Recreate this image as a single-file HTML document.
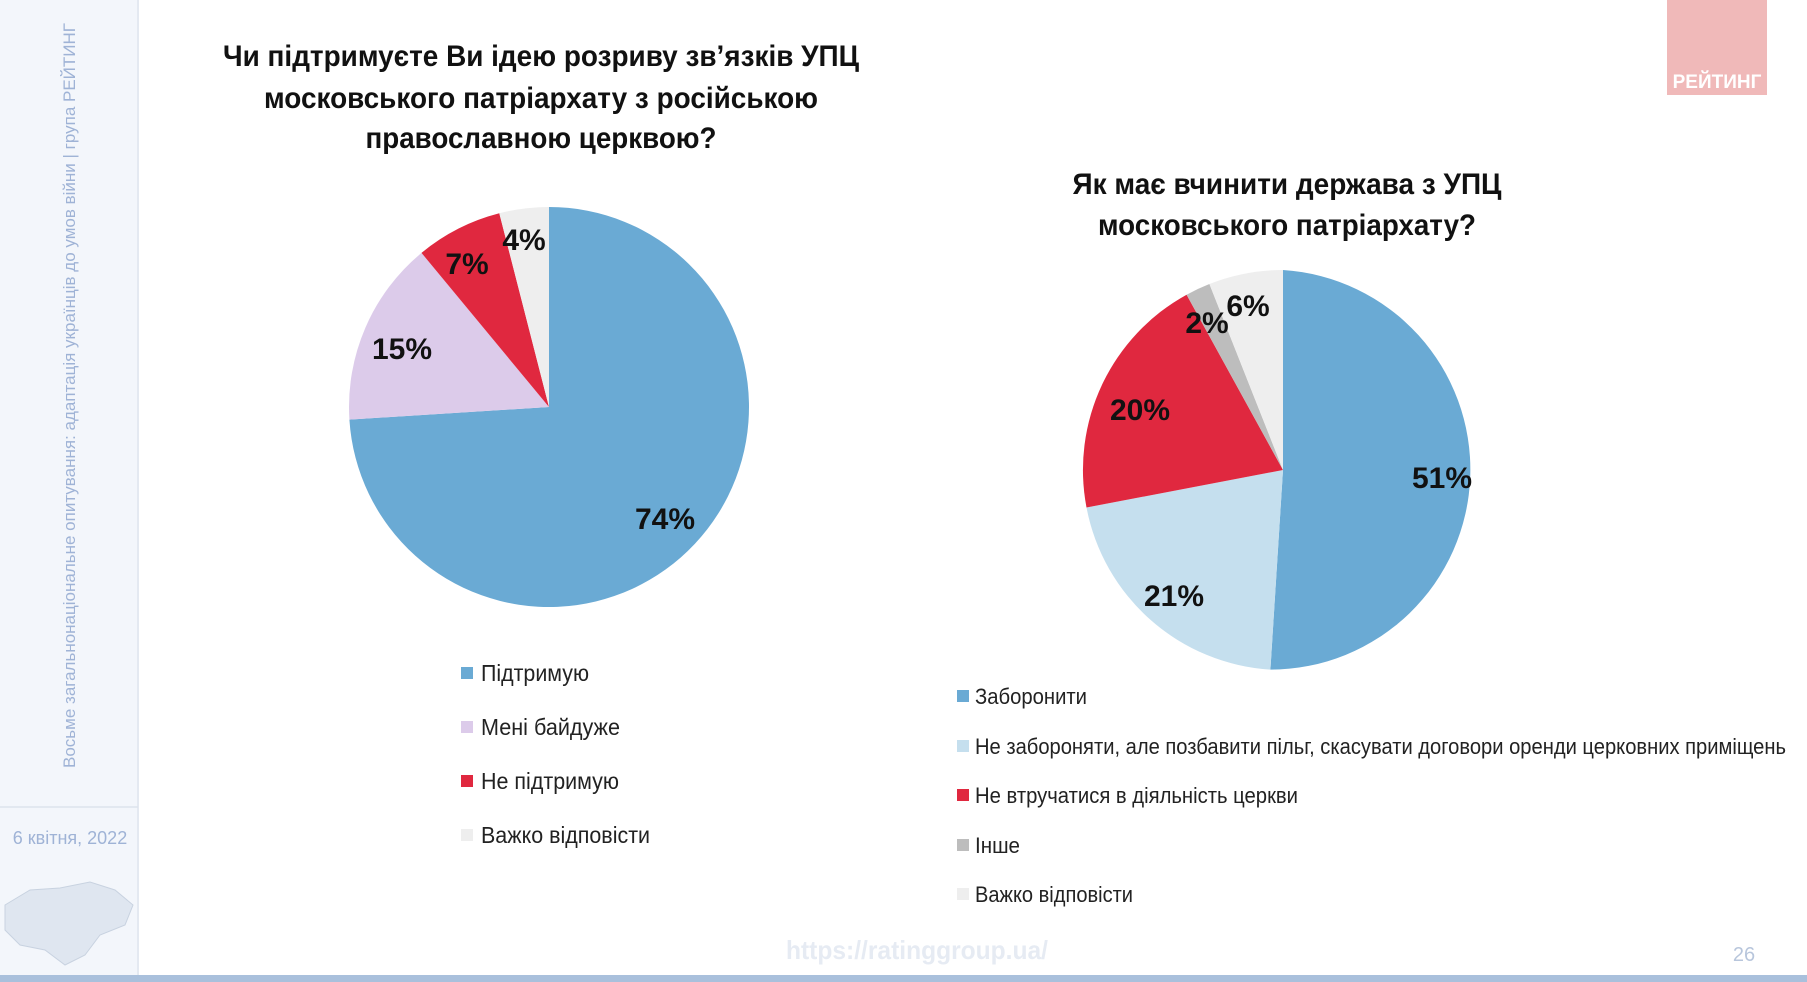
<!DOCTYPE html>
<html><head><meta charset="utf-8"><style>
html,body{margin:0;padding:0;background:#fff;}
svg{display:block;}
text{font-family:"Liberation Sans Narrow","Liberation Sans",sans-serif;}
</style></head><body>
<svg width="1807" height="982" viewBox="0 0 1807 982" xmlns="http://www.w3.org/2000/svg">
<rect x="0" y="0" width="138" height="982" fill="#f3f6fb"/>
<line x1="138" y1="0" x2="138" y2="975" stroke="#e4e9f1" stroke-width="2"/>
<line x1="0" y1="807" x2="138" y2="807" stroke="#dde3ec" stroke-width="1.5"/>
<text transform="translate(75,768) rotate(-90)" font-size="17" fill="#9fb3d6" textLength="745" lengthAdjust="spacingAndGlyphs">Восьме загальнонаціональне опитування: адаптація українців до умов війни | група РЕЙТИНГ</text>
<text x="70" y="844" font-size="18" fill="#9fb3d6" text-anchor="middle" font-family="Liberation Sans">6 квітня, 2022</text>
<path d="M5,905 L30,890 L60,888 L90,882 L115,890 L133,905 L125,925 L100,935 L85,955 L65,965 L45,950 L20,945 L5,930 Z" fill="#dfe6f0" stroke="#c8d2e0"/>
<rect x="0" y="975" width="1807" height="7" fill="#a9c0dc"/>
<rect x="1667" y="0" width="100" height="95" fill="#f0b9b9"/>
<text x="1717" y="88" font-size="19" font-weight="bold" fill="#fff" text-anchor="middle" font-family="Liberation Sans">РЕЙТИНГ</text>

<g font-weight="bold" font-size="30" fill="#111" text-anchor="middle">
<text x="541" y="66" textLength="636" lengthAdjust="spacingAndGlyphs">Чи підтримуєте Ви ідею розриву зв’язків УПЦ</text>
<text x="541" y="108" textLength="554" lengthAdjust="spacingAndGlyphs">московського патріархату з російською</text>
<text x="541" y="148" textLength="351" lengthAdjust="spacingAndGlyphs">православною церквою?</text>
<text x="1287" y="194" textLength="429" lengthAdjust="spacingAndGlyphs">Як має вчинити держава з УПЦ</text>
<text x="1287" y="235" textLength="378" lengthAdjust="spacingAndGlyphs">московського патріархату?</text>
</g>

<!-- Pie 1 -->
<path d="M549,407 L549,207 A200,200 0 1 1 349.4,419.6 Z" fill="#6aaad4"/>
<path d="M549,407 L349.4,419.6 A200,200 0 0 1 421.5,252.9 Z" fill="#dccbea"/>
<path d="M549,407 L421.5,252.9 A200,200 0 0 1 499.3,213.3 Z" fill="#e0283f"/>
<path d="M549,407 L499.3,213.3 A200,200 0 0 1 549,207 Z" fill="#eeeeee"/>
<g font-weight="bold" font-size="30" fill="#111" text-anchor="middle">
<text x="665" y="529">74%</text>
<text x="402" y="359">15%</text>
<text x="467" y="274">7%</text>
<text x="524" y="250">4%</text>
</g>

<!-- Pie 2 -->
<path d="M1283,470 L1283,270 A200,200 0 0 1 1270.4,669.6 Z" fill="#6aaad4"/>
<path d="M1283,470 L1270.4,669.6 A200,200 0 0 1 1086.5,507.5 Z" fill="#c5dfee"/>
<path d="M1283,470 L1086.5,507.5 A200,200 0 0 1 1186.6,294.7 Z" fill="#e0283f"/>
<path d="M1283,470 L1186.6,294.7 A200,200 0 0 1 1209.4,284.0 Z" fill="#bdbdbd"/>
<path d="M1283,470 L1209.4,284.0 A200,200 0 0 1 1283,270 Z" fill="#eeeeee"/>
<g font-weight="bold" font-size="30" fill="#111" text-anchor="middle">
<text x="1442" y="488">51%</text>
<text x="1174" y="606">21%</text>
<text x="1140" y="420">20%</text>
<text x="1207" y="333">2%</text>
<text x="1248" y="316">6%</text>
</g>

<!-- Legend 1 -->
<g font-size="23" fill="#222">
<rect x="461" y="667" width="12" height="12" fill="#6aaad4"/><text x="481" y="681" textLength="108" lengthAdjust="spacingAndGlyphs">Підтримую</text>
<rect x="461" y="721" width="12" height="12" fill="#dccbea"/><text x="481" y="735" textLength="139" lengthAdjust="spacingAndGlyphs">Мені байдуже</text>
<rect x="461" y="775" width="12" height="12" fill="#e0283f"/><text x="481" y="789" textLength="138" lengthAdjust="spacingAndGlyphs">Не підтримую</text>
<rect x="461" y="829" width="12" height="12" fill="#eeeeee"/><text x="481" y="843" textLength="169" lengthAdjust="spacingAndGlyphs">Важко відповісти</text>
</g>
<!-- Legend 2 -->
<g font-size="22" fill="#222">
<rect x="957" y="690" width="12" height="12" fill="#6aaad4"/><text x="975" y="704" textLength="112" lengthAdjust="spacingAndGlyphs">Заборонити</text>
<rect x="957" y="740" width="12" height="12" fill="#c5dfee"/><text x="975" y="754" textLength="811" lengthAdjust="spacingAndGlyphs">Не забороняти, але позбавити пільг, скасувати договори оренди церковних приміщень</text>
<rect x="957" y="789" width="12" height="12" fill="#e0283f"/><text x="975" y="803" textLength="323" lengthAdjust="spacingAndGlyphs">Не втручатися в діяльність церкви</text>
<rect x="957" y="839" width="12" height="12" fill="#bdbdbd"/><text x="975" y="853" textLength="45" lengthAdjust="spacingAndGlyphs">Інше</text>
<rect x="957" y="888" width="12" height="12" fill="#eeeeee"/><text x="975" y="902" textLength="158" lengthAdjust="spacingAndGlyphs">Важко відповісти</text>
</g>

<text x="917" y="959" font-size="26" font-weight="bold" fill="#e6ebf3" text-anchor="middle" textLength="262" lengthAdjust="spacingAndGlyphs">https://ratinggroup.ua/</text>
<text x="1744" y="961" font-size="20" fill="#b8c6dc" text-anchor="middle">26</text>
</svg>
</body></html>
